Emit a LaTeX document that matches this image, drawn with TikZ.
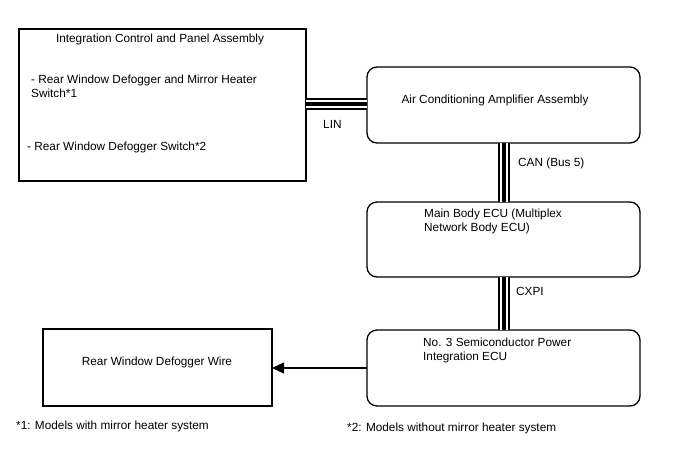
\documentclass[tikz,border=0pt]{standalone}
\usepackage{fontspec}
\setmainfont{Liberation Sans}
\usetikzlibrary{arrows.meta}
\begin{document}
\begin{tikzpicture}[x=1pt,y=-1pt,
  box/.style={draw,line width=1.3pt,inner sep=0pt},
  rbox/.style={draw,line width=1.3pt,rounded corners=10pt},
  lbl/.style={font=\fontsize{11.8}{14}\selectfont,inner sep=0pt},
  busA/.style={line width=12pt},
  busB/.style={line width=8pt,white},
  busC/.style={line width=4pt}]
\useasboundingbox[fill=white] (0,0) rectangle (688,463);
% boxes
\draw[box] (19,29) rectangle (306,181);
\node[coordinate] (icp) at (306,104) {};
\draw[rbox] (367,67) rectangle (640,143);
\draw[rbox] (367,202) rectangle (640,277);
\draw[rbox] (367,330) rectangle (640,406);
\draw[box] (43,329) rectangle (272,406);
\coordinate (acL) at (367,104);
\coordinate (acB) at (504,143);
\coordinate (mbT) at (504,202);
\coordinate (mbB) at (504,277);
\coordinate (n3T) at (504,330);
\coordinate (n3L) at (367,368);
\coordinate (dfR) at (272,368);
% texts
\node[lbl] (t1) at (160,39) {Integration Control and Panel Assembly};
\node[lbl,anchor=west,align=left] (t2) at (31,86) {- Rear Window Defogger and Mirror Heater\\Switch*1};
\node[lbl,anchor=west] (t3) at (27,147) {- Rear Window Defogger Switch*2};
\node[lbl] (t4) at (495,100) {Air Conditioning Amplifier Assembly};
\node[lbl,anchor=west,align=left] (t5) at (424,221) {Main Body ECU (Multiplex\\Network Body ECU)};
\node[lbl,anchor=west,align=left] (t6) at (423,350) {No. 3 Semiconductor Power\\Integration ECU};
\node[lbl] (t7) at (157,362) {Rear Window Defogger Wire};
\node[lbl,anchor=west] (l1) at (323,124) {LIN};
\node[lbl,anchor=west] (l2) at (518,163) {CAN (Bus 5)};
\node[lbl,anchor=west] (l3) at (516,291) {CXPI};
\node[lbl,anchor=west] (f1) at (16,426) {*1: Models with mirror heater system};
\node[lbl,anchor=west] (f2) at (347,428) {*2: Models without mirror heater system};
% buses
\foreach \a/\b in {icp/acL,acB/mbT,mbB/n3T}{
  \draw[busA] (\a) -- (\b);
  \draw[busB] (\a) -- (\b);
  \draw[busC] (\a) -- (\b);
}
\draw[line width=1.3pt,-{Triangle[length=12pt,width=11pt]}] (n3L) -- (dfR);
\end{tikzpicture}
\end{document}
